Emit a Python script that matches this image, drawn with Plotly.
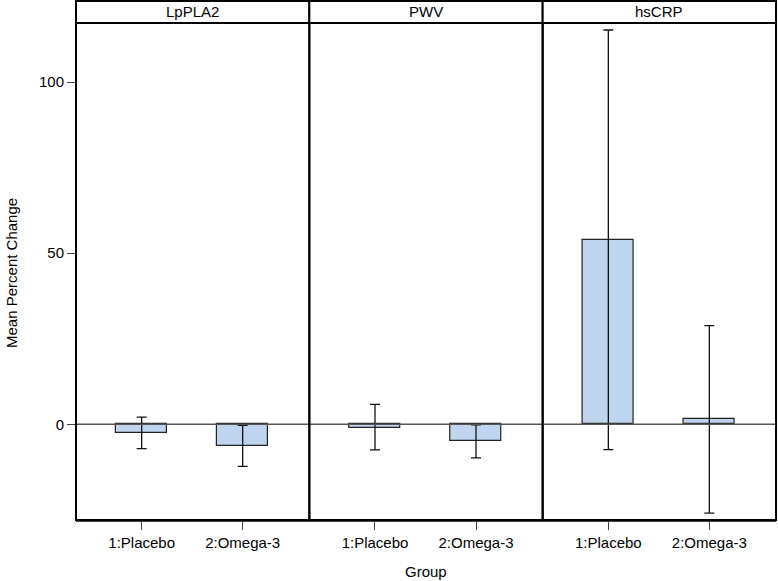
import plotly.graph_objects as go
from plotly.subplots import make_subplots

panels = ["LpPLA2", "PWV", "hsCRP"]
groups = ["1:Placebo", "2:Omega-3"]

mean_lppla2 = [-2.6, -6.4]
lower_lppla2 = [-7.1, -12.3]
upper_lppla2 = [2.1, -0.3]

mean_pwv = [-1.0, -5.0]
lower_pwv = [-7.5, -9.8]
upper_pwv = [5.8, -0.2]

mean_hscrp = [53.9, 1.4]
lower_hscrp = [-7.4, -26.0]
upper_hscrp = [115.2, 28.8]

y_ticks = [0, 50, 100]

data = [
    (mean_lppla2, lower_lppla2, upper_lppla2),
    (mean_pwv, lower_pwv, upper_pwv),
    (mean_hscrp, lower_hscrp, upper_hscrp),
]

FONT = "Liberation Sans, Arial, sans-serif"
W, H = 778, 581
ML, MR, MT, MB = 76, 2, 23, 61
plot_h = H - MT - MB

fig = make_subplots(rows=1, cols=3, shared_yaxes=True, horizontal_spacing=0)

for i, (m, lo, up) in enumerate(data):
    plus = [u - v for u, v in zip(up, m)]
    minus = [v - l for v, l in zip(m, lo)]
    fig.add_trace(
        go.Bar(
            x=groups, y=m, width=0.5,
            marker=dict(color="#bfd4ee", line=dict(color="#222222", width=1.2)),
            error_y=dict(type="data", symmetric=False, array=plus, arrayminus=minus,
                         color="#111111", thickness=1.3, width=5),
            showlegend=False, hoverinfo="x+y",
        ),
        row=1, col=i + 1,
    )

for i in range(3):
    xa = "xaxis" if i == 0 else f"xaxis{i+1}"
    ya = "yaxis" if i == 0 else f"yaxis{i+1}"
    fig.layout[xa].update(
        type="category", range=[-0.65, 1.66], showgrid=False, zeroline=False,
        showline=True, linecolor="#444444", linewidth=1.5,
        ticks="outside", ticklen=8, tickcolor="#444444", tickwidth=1.2,
        tickfont=dict(family=FONT, size=15, color="black"),
    )
    fig.layout[ya].update(
        range=[-27.98, 117.25], showgrid=False,
        zeroline=False, showline=False,
        ticks="outside" if i == 0 else "", ticklen=8, tickcolor="#444444", tickwidth=1.2,
        tickvals=y_ticks, showticklabels=(i == 0),
        tickfont=dict(family=FONT, size=15, color="black"),
    )
    xr = "x domain" if i == 0 else f"x{i+1} domain"
    yr = "y" if i == 0 else f"y{i+1}"
    yd = "y domain" if i == 0 else f"y{i+1} domain"
    # zero reference line drawn over the bars
    fig.add_shape(type="line", xref=xr, yref=yr, x0=0, x1=1, y0=0, y1=0,
                  line=dict(color="#555555", width=1.3), layer="above")
    # panel frame
    fig.add_shape(type="rect", xref=xr, yref=yd, x0=0, x1=1, y0=0, y1=1,
                  line=dict(color="black", width=2), fillcolor="rgba(0,0,0,0)", layer="above")
    # header band
    fig.add_shape(type="rect", xref=xr, yref=yd, x0=0, x1=1, y0=1, y1=1 + 22 / plot_h,
                  line=dict(color="black", width=2), fillcolor="white", layer="above")
    fig.add_annotation(xref=xr, yref=yd, x=0.5, y=1 + 11 / plot_h, text=panels[i],
                       showarrow=False, xanchor="center", yanchor="middle",
                       font=dict(family=FONT, size=15, color="black"))

fig.add_annotation(xref="paper", yref="paper", x=0.5, y=-51 / plot_h, text="Group",
                   showarrow=False, xanchor="center", yanchor="middle",
                   font=dict(family=FONT, size=15, color="black"))
fig.add_annotation(xref="paper", yref="paper", x=(12 - ML) / (W - ML - MR), y=0.497,
                   text="Mean Percent Change", textangle=-90,
                   showarrow=False, xanchor="center", yanchor="middle",
                   font=dict(family=FONT, size=15, color="black"))

fig.update_layout(
    width=W, height=H,
    margin=dict(l=ML, r=MR, t=MT, b=MB),
    paper_bgcolor="white", plot_bgcolor="white",
    font=dict(family=FONT, size=15, color="black"),
    bargap=0,
)

fig.write_html("out.html",
               config={"displayModeBar": False},
               post_script="document.body.style.margin='0';document.body.style.padding='0';")
